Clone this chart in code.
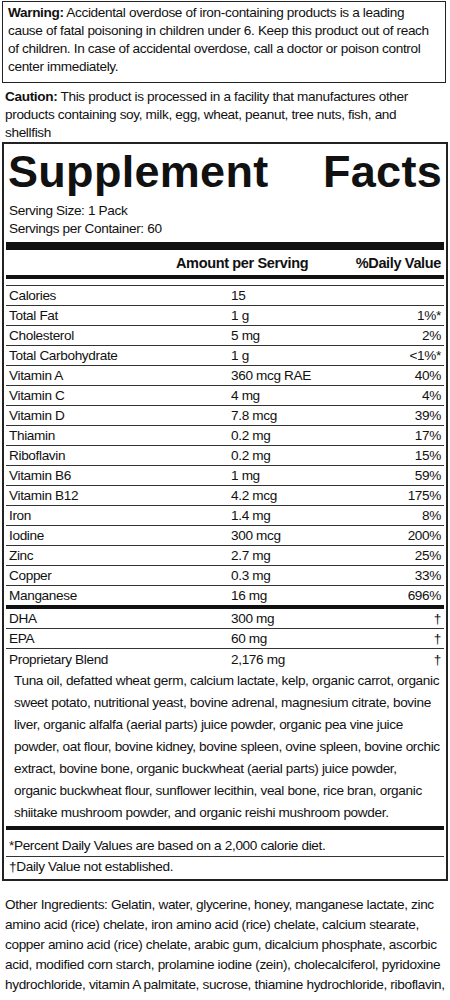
<!DOCTYPE html>
<html><head><meta charset="utf-8">
<script src="https://cdn.jsdelivr.net/npm/chart.js"></script>
<style>
body{margin:0;width:450px;height:1000px;background:#fff;font-family:"Liberation Sans Narrow","Arial Narrow","Liberation Sans",sans-serif;font-size:13.6px;letter-spacing:-0.35px;color:#111;line-height:18px;position:relative;overflow:hidden}
.warn{margin:1px 0 0 2px;width:432px;border:1px solid #222;padding:2px 5px;height:76px}
.caut{margin:5px 0 0 5px;width:440px;height:54px}
.box{margin-left:2px;width:438px;border:2px solid #222;padding:0 2px 2px}
.title{font-family:"Liberation Sans",Arial,sans-serif;font-weight:bold;font-size:45px;line-height:52px;display:flex;justify-content:space-between;padding:2px 2px 0 2px;letter-spacing:0.3px}
.row{display:flex;height:19px;border-bottom:1px solid #333;align-items:center;padding:0 3px}
.row .n{width:222px}.row .a{flex:1}.row .d{text-align:right}
.med{border-bottom:4px solid #111}
.blend{padding:0 3px 0 8px;line-height:22px}
.oth{margin:14px 0 0 5px;width:440px;line-height:20px}
</style></head><body>
<div class="warn"><b>Warning:</b> Accidental overdose of iron-containing products is a leading cause of fatal poisoning in children under 6. Keep this product out of reach of children. In case of accidental overdose, call a doctor or poison control center immediately.</div>
<div class="caut"><b>Caution:</b> This product is processed in a facility that manufactures other products containing soy, milk, egg, wheat, peanut, tree nuts, fish, and shellfish</div>
<div class="box">
 <div class="title"><span>Supplement</span><span>Facts</span></div>
 <div style="padding:4px 3px 0">Serving Size: 1 Pack<br>Servings per Container: 60</div>
 <div style="border-bottom:8px solid #111;margin:4px 0 0"></div>
 <div class="row med" style="height:25px;font-weight:bold;font-size:14.5px"><span class="n"></span><span class="a" style="margin-left:-55px">Amount per Serving</span><span class="d">%Daily Value</span></div>
 <div style="height:6px;border-bottom:1px solid #333"></div>
 <div id="rows"></div>
 <div id="rows2"></div>
 <div class="blend" id="blend"></div>
 <div style="border-bottom:4px solid #111;margin-top:2px"></div>
 <div style="padding:6px 3px 0;line-height:20px">*Percent Daily Values are based on a 2,000 calorie diet.</div>
 <div style="border-top:1px solid #333;padding:0 3px;line-height:20px">†Daily Value not established.</div>
</div>
<div class="oth">Other Ingredients: Gelatin, water, glycerine, honey, manganese lactate, zinc amino acid (rice) chelate, iron amino acid (rice) chelate, calcium stearate, copper amino acid (rice) chelate, arabic gum, dicalcium phosphate, ascorbic acid, modified corn starch, prolamine iodine (zein), cholecalciferol, pyridoxine hydrochloride, vitamin A palmitate, sucrose, thiamine hydrochloride, riboflavin, d-alpha tocopherol (vitamin E soy), and cyanocobalamin.</div>
<div style="margin:8px 0 0 5px">09</div>
<script>
const nutrients = ["Calories","Total Fat","Cholesterol","Total Carbohydrate","Vitamin A","Vitamin C","Vitamin D","Thiamin","Riboflavin","Vitamin B6","Vitamin B12","Iron","Iodine","Zinc","Copper","Manganese"];
const amounts = ["15","1 g","5 mg","1 g","360 mcg RAE","4 mg","7.8 mcg","0.2 mg","0.2 mg","1 mg","4.2 mcg","1.4 mg","300 mcg","2.7 mg","0.3 mg","16 mg"];
const dailyValues = ["","1%*","2%","<1%*","40%","4%","39%","17%","15%","59%","175%","8%","200%","25%","33%","696%"];
const others = ["DHA","EPA","Proprietary Blend"];
const otherAmounts = ["300 mg","60 mg","2,176 mg"];
const blendText = "Tuna oil, defatted wheat germ, calcium lactate, kelp, organic carrot, organic sweet potato, nutritional yeast, bovine adrenal, magnesium citrate, bovine liver, organic alfalfa (aerial parts) juice powder, organic pea vine juice powder, oat flour, bovine kidney, bovine spleen, ovine spleen, bovine orchic extract, bovine bone, organic buckwheat (aerial parts) juice powder, organic buckwheat flour, sunflower lecithin, veal bone, rice bran, organic shiitake mushroom powder, and organic reishi mushroom powder.";
function row(n,a,d,cls,st){return `<div class="row ${cls||''}" style="${st||''}"><span class="n">${n}</span><span class="a">${a}</span><span class="d">${d}</span></div>`;}
document.getElementById("rows").innerHTML = nutrients.map((n,i)=>row(n,amounts[i],dailyValues[i].replace("<","&lt;"),i===nutrients.length-1?"med":"")).join("");
document.getElementById("rows2").innerHTML = others.map((n,i)=>row(n,otherAmounts[i],"†","",i===2?"border-bottom:none;height:21px":"")).join("");
document.getElementById("blend").textContent = blendText;
</script>
</body></html>
